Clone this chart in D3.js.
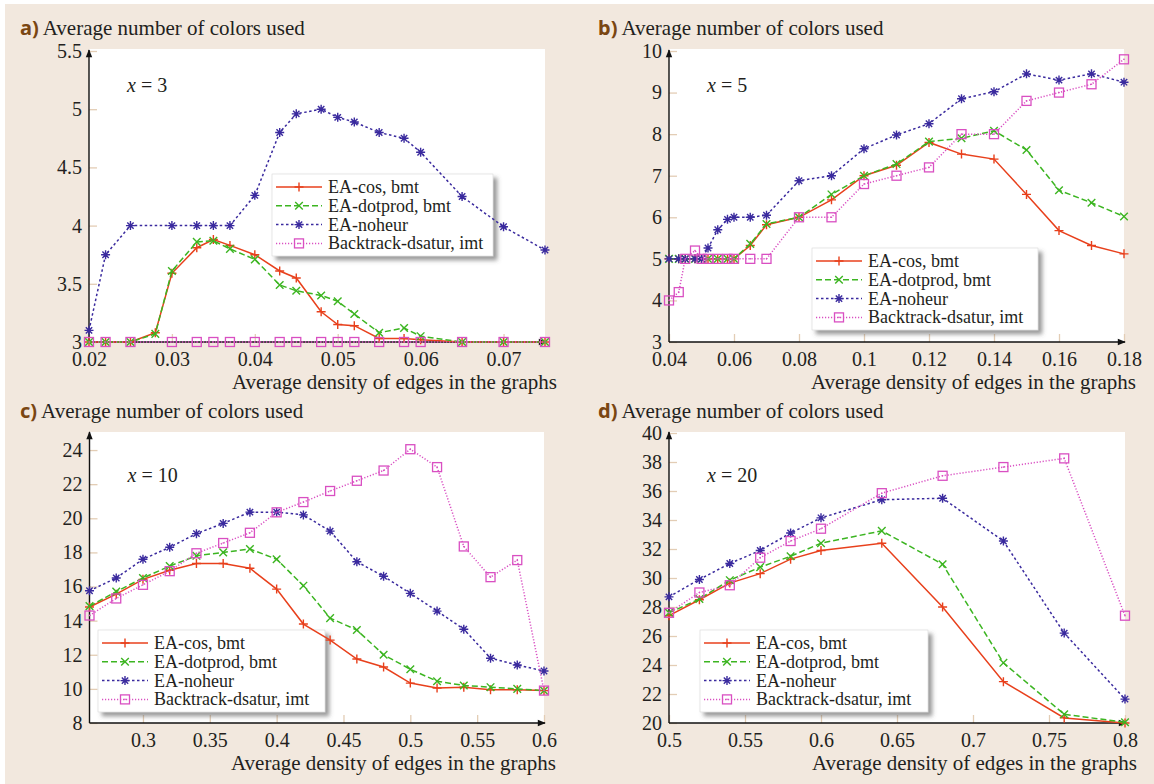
<!DOCTYPE html>
<html>
<head>
<meta charset="utf-8">
<script src="https://cdn.jsdelivr.net/npm/d3@7"></script>
<style>
  body { margin: 0; background: #fff; }
  svg text { font-family: "Liberation Serif", "Times New Roman", Tinos, "DejaVu Serif", "Noto Serif", serif; fill: #231f20; }
</style>
</head>
<body>
<div id="chart"></div>
<script>
// legend labels (same in every panel)
const seriesNames = ["EA-cos, bmt", "EA-dotprod, bmt", "EA-noheur", "Backtrack-dsatur, imt"];
const yTitle = "Average number of colors used";
const xTitle = "Average density of edges in the graphs";
const serif = '"Liberation Serif", "Times New Roman", Tinos, "DejaVu Serif", "Noto Serif", serif';

// a) x = 3
const aX = [0.02, 0.022, 0.025, 0.028, 0.03, 0.033, 0.035, 0.037, 0.04, 0.043, 0.045, 0.048, 0.05, 0.052, 0.055, 0.058, 0.06, 0.065, 0.07, 0.075];
const aXShort = [0.02, 0.022, 0.025, 0.03, 0.033, 0.035, 0.037, 0.04, 0.043, 0.045, 0.048, 0.05, 0.052, 0.055, 0.058, 0.06, 0.065, 0.07, 0.075];
const aCos = [3, 3, 3, 3.08, 3.59, 3.81, 3.88, 3.83, 3.75, 3.61, 3.55, 3.26, 3.15, 3.14, 3.03, 3.03, 3.02, 3, 3, 3];
const aDot = [3, 3, 3, 3.07, 3.61, 3.86, 3.87, 3.8, 3.71, 3.49, 3.44, 3.4, 3.35, 3.24, 3.08, 3.12, 3.05, 3, 3, 3];
const aNoheur = [3.1, 3.75, 4, 4, 4, 4, 4, 4.26, 4.8, 4.96, 5, 4.93, 4.89, 4.8, 4.75, 4.63, 4.25, 3.99, 3.79];
const aBack = [3, 3, 3, 3, 3, 3, 3, 3, 3, 3, 3, 3, 3, 3, 3, 3, 3, 3, 3];
const aXTicks = [0.02, 0.03, 0.04, 0.05, 0.06, 0.07];
const aYTicks = [3, 3.5, 4, 4.5, 5, 5.5];

// b) x = 5
const bX = [0.04, 0.043, 0.045, 0.048, 0.05, 0.052, 0.055, 0.058, 0.06, 0.065, 0.07, 0.08, 0.09, 0.1, 0.11, 0.12, 0.13, 0.14, 0.15, 0.16, 0.17, 0.18];
const bCos = [5, 5, 5, 5, 5, 5, 5, 5, 5, 5.32, 5.82, 6, 6.42, 7, 7.25, 7.8, 7.52, 7.4, 6.55, 5.68, 5.32, 5.12];
const bDot = [5, 5, 5, 5, 5, 5, 5, 5, 5, 5.36, 5.84, 6, 6.55, 7, 7.28, 7.82, 7.9, 8.08, 7.62, 6.65, 6.35, 6.02];
const bNoheur = [5, 5, 5, 5, 5, 5.26, 5.7, 5.95, 6, 6, 6.05, 6.88, 7, 7.65, 7.98, 8.25, 8.85, 9.02, 9.45, 9.3, 9.45, 9.25];
const bBack = [4, 4.2, 5, 5.2, 5, 5, 5, 5, 5, 5, 5, 6, 6, 6.8, 7, 7.2, 8, 8, 8.8, 9, 9.2, 9.8];
const bXTicks = [0.04, 0.06, 0.08, 0.1, 0.12, 0.14, 0.16, 0.18];
const bYTicks = [3, 4, 5, 6, 7, 8, 9, 10];

// c) x = 10
const cX = [0.26, 0.28, 0.3, 0.32, 0.34, 0.36, 0.38, 0.4, 0.42, 0.44, 0.46, 0.48, 0.5, 0.52, 0.54, 0.56, 0.58, 0.6];
const cCos = [14.8, 15.55, 16.42, 16.95, 17.35, 17.35, 17.07, 15.85, 13.8, 12.86, 11.75, 11.28, 10.34, 10.05, 10.1, 9.95, 9.95, 9.9];
const cDot = [14.85, 15.7, 16.5, 17.2, 17.8, 18, 18.2, 17.6, 16.05, 14.15, 13.45, 12, 11.15, 10.45, 10.2, 10.1, 10, 9.9];
const cNoheur = [15.75, 16.5, 17.6, 18.3, 19.1, 19.7, 20.36, 20.36, 20.2, 19.25, 17.45, 16.6, 15.6, 14.56, 13.5, 11.8, 11.4, 11.05];
const cBack = [14.3, 15.3, 16.1, 16.9, 17.95, 18.55, 19.15, 20.35, 20.95, 21.6, 22.2, 22.8, 24.05, 23, 18.35, 16.55, 17.55, 9.9];
const cXTicks = [0.3, 0.35, 0.4, 0.45, 0.5, 0.55, 0.6];
const cYTicks = [8, 10, 12, 14, 16, 18, 20, 22, 24];

// d) x = 20
const dX = [0.5, 0.52, 0.54, 0.56, 0.58, 0.6, 0.64, 0.68, 0.72, 0.76, 0.8];
const dCos = [27.4, 28.5, 29.65, 30.3, 31.3, 31.9, 32.4, 28, 22.85, 20.35, 20];
const dDot = [27.6, 28.55, 29.85, 30.75, 31.5, 32.4, 33.25, 30.95, 24.15, 20.6, 20.05];
const dNoheur = [28.7, 29.9, 31, 31.9, 33.1, 34.15, 35.4, 35.5, 32.55, 26.2, 21.65];
const dBack = [27.6, 29, 29.5, 31.4, 32.55, 33.4, 35.85, 37.05, 37.65, 38.25, 27.4];
const dXTicks = [0.5, 0.55, 0.6, 0.65, 0.7, 0.75, 0.8];
const dYTicks = [20, 22, 24, 26, 28, 30, 32, 34, 36, 38, 40];

// line styles for the 4 series
const seriesStyle = [
    {color: "#e8401c", dash: null, marker: "plus"},
    {color: "#3cb521", dash: "6,3", marker: "cross"},
    {color: "#3a2a9e", dash: "2.5,2.5", marker: "star"},
    {color: "#d94fc2", dash: "1.2,1.8", marker: "square"}
];

const svg = d3.select("#chart").append("svg")
    .attr("width", 1154)
    .attr("height", 784);

// beige page background
svg.append("rect")
    .attr("x", 5).attr("y", 4)
    .attr("width", 1149).attr("height", 780)
    .attr("fill", "#f2e8de");

let defs = svg.append("defs");
defs.append("marker")
    .attr("id", "arrow")
    .attr("viewBox", "0 0 10 10")
    .attr("refX", 9).attr("refY", 5)
    .attr("markerWidth", 10).attr("markerHeight", 8)
    .attr("markerUnits", "userSpaceOnUse")
    .attr("orient", "auto")
    .append("path")
    .attr("d", "M0,1 L10,5 L0,9 Z")
    .attr("fill", "#111");

let shadow = defs.append("filter")
    .attr("id", "shadow")
    .attr("x", "-10%").attr("y", "-10%")
    .attr("width", "130%").attr("height", "140%");
shadow.append("feDropShadow")
    .attr("dx", 4).attr("dy", 4)
    .attr("stdDeviation", 2.2)
    .attr("flood-color", "#555")
    .attr("flood-opacity", 0.6);

function markerPath(type) {
    if (type == "plus") return "M-4.5,0H4.5M0,-4.5V4.5";
    if (type == "cross") return "M-3.8,-3.8L3.8,3.8M-3.8,3.8L3.8,-3.8";
    if (type == "star") return "M-4.5,0H4.5M0,-4.5V4.5M-3.2,-3.2L3.2,3.2M-3.2,3.2L3.2,-3.2";
    return null;
}

function drawMarker(g, type, color, px, py) {
    if (type == "square") {
        g.append("rect")
            .attr("x", px - 4.5).attr("y", py - 4.5)
            .attr("width", 9).attr("height", 9)
            .attr("fill", "none")
            .attr("stroke", color)
            .attr("stroke-width", 1.3);
        g.append("circle")
            .attr("cx", px).attr("cy", py).attr("r", 0.8)
            .attr("fill", color);
    } else {
        g.append("path")
            .attr("d", markerPath(type))
            .attr("transform", `translate(${px},${py})`)
            .attr("stroke", color)
            .attr("stroke-width", 1.4)
            .attr("fill", "none");
    }
}

function drawPanel(p) {
    let g = svg.append("g");

    let x = d3.scaleLinear().domain(p.xDomain).range([p.left, p.right]);
    let y = d3.scaleLinear().domain(p.yDomain).range([p.bottom, p.top]);

    // white plot area
    g.append("rect")
        .attr("x", p.left).attr("y", p.plotTop)
        .attr("width", p.right - p.left)
        .attr("height", p.bottom - p.plotTop)
        .attr("fill", "#fff");

    // axes with tan inner ticks
    let xAxis = d3.axisBottom(x)
        .tickValues(p.xTicks)
        .tickFormat(d => String(d))
        .tickSize(-8)
        .tickPadding(11);
    let yAxis = d3.axisLeft(y)
        .tickValues(p.yTicks)
        .tickFormat(d => String(d))
        .tickSize(-8)
        .tickPadding(7);

    let gx = g.append("g")
        .attr("transform", `translate(0,${p.bottom})`)
        .call(xAxis);
    let gy = g.append("g")
        .attr("transform", `translate(${p.left},0)`)
        .call(yAxis);
    [gx, gy].forEach(ax => {
        ax.attr("font-family", null).attr("font-size", null);
        ax.select(".domain").remove();
        ax.selectAll(".tick line").attr("stroke", "#e3cdb5").attr("stroke-width", 1.3);
        ax.selectAll(".tick text")
            .attr("fill", "#231f20")
            .style("font-family", serif)
            .style("font-size", "20px");
    });
    gx.selectAll(".tick text").attr("dy", "0.66em");

    // legend box, drawn under the lines
    let lg = g.append("g").attr("transform", `translate(${p.legend[0]},${p.legend[1]})`);
    lg.append("rect")
        .attr("width", p.legend[2]).attr("height", 82)
        .attr("fill", "#fff")
        .attr("stroke", "#d8d8d8")
        .attr("stroke-width", 0.6)
        .attr("filter", "url(#shadow)");
    seriesNames.forEach((name, i) => {
        let st = seriesStyle[i];
        let ry = 13 + i * 18.8;
        lg.append("line")
            .attr("x1", 4).attr("x2", 50)
            .attr("y1", ry).attr("y2", ry)
            .attr("stroke", st.color)
            .attr("stroke-width", 1.5)
            .attr("stroke-dasharray", st.dash);
        drawMarker(lg, st.marker, st.color, 27, ry);
        lg.append("text")
            .attr("x", 56).attr("y", ry)
            .attr("dy", "0.33em")
            .style("font-size", "18px")
            .text(name);
    });

    // axis lines with arrows
    g.append("line")
        .attr("x1", p.left).attr("x2", p.right + 1)
        .attr("y1", p.bottom).attr("y2", p.bottom)
        .attr("stroke", "#111").attr("stroke-width", 1.4)
        .attr("marker-end", "url(#arrow)");
    g.append("line")
        .attr("x1", p.left).attr("x2", p.left)
        .attr("y1", p.bottom).attr("y2", p.top - 1)
        .attr("stroke", "#111").attr("stroke-width", 1.4)
        .attr("marker-end", "url(#arrow)");

    // series
    let line = d3.line().x(d => x(d[0])).y(d => y(d[1]));
    p.series.forEach((s, i) => {
        let st = seriesStyle[i];
        let pts = s.xs.map((v, j) => [v, s.ys[j]]);
        g.append("path")
            .attr("d", line(pts))
            .attr("fill", "none")
            .attr("stroke", st.color)
            .attr("stroke-width", 1.5)
            .attr("stroke-dasharray", st.dash);
        let mg = g.append("g");
        pts.forEach(d => drawMarker(mg, st.marker, st.color, x(d[0]), y(d[1])));
    });

    // panel heading
    let t = g.append("text")
        .attr("x", p.titleX).attr("y", p.titleY);
    t.append("tspan")
        .style("font-family", '"Noto Sans", "Open Sans", sans-serif')
        .style("font-weight", "bold")
        .style("font-size", "20px")
        .style("fill", "#7a4612")
        .text(p.letter);
    t.append("tspan")
        .attr("dx", 4)
        .style("font-size", "21px")
        .text(yTitle);

    // x-axis title
    g.append("text")
        .attr("x", p.right + 12).attr("y", p.bottom + 47)
        .attr("text-anchor", "end")
        .style("font-size", "21px")
        .text(xTitle);

    // parameter note
    let n = g.append("text")
        .attr("x", p.left + 38).attr("y", p.noteY)
        .style("font-size", "20px");
    n.append("tspan").style("font-style", "italic").text("x");
    n.append("tspan").text(" = " + p.note);
}

drawPanel({
    letter: "a)", note: "3", titleX: 20, titleY: 35, noteY: 92,
    left: 89, right: 545, top: 51, bottom: 342, plotTop: 49,
    xDomain: [0.02, 0.075], yDomain: [3, 5.5],
    xTicks: aXTicks, yTicks: aYTicks,
    legend: [272, 174, 221],
    series: [
        {xs: aX, ys: aCos},
        {xs: aX, ys: aDot},
        {xs: aXShort, ys: aNoheur},
        {xs: aXShort, ys: aBack}
    ]
});

drawPanel({
    letter: "b)", note: "5", titleX: 598, titleY: 35, noteY: 92,
    left: 669, right: 1124, top: 51, bottom: 342, plotTop: 49,
    xDomain: [0.04, 0.18], yDomain: [3, 10],
    xTicks: bXTicks, yTicks: bYTicks,
    legend: [812, 248, 226],
    series: [
        {xs: bX, ys: bCos},
        {xs: bX, ys: bDot},
        {xs: bX, ys: bNoheur},
        {xs: bX, ys: bBack}
    ]
});

drawPanel({
    letter: "c)", note: "10", titleX: 20, titleY: 418, noteY: 482,
    left: 89.5, right: 544, top: 433, bottom: 723, plotTop: 432,
    xDomain: [0.26, 0.6], yDomain: [8, 25],
    xTicks: cXTicks, yTicks: cYTicks,
    legend: [98, 630, 227],
    series: [
        {xs: cX, ys: cCos},
        {xs: cX, ys: cDot},
        {xs: cX, ys: cNoheur},
        {xs: cX, ys: cBack}
    ]
});

drawPanel({
    letter: "d)", note: "20", titleX: 598, titleY: 418, noteY: 482,
    left: 669, right: 1125, top: 433, bottom: 723, plotTop: 432,
    xDomain: [0.5, 0.8], yDomain: [20, 40],
    xTicks: dXTicks, yTicks: dYTicks,
    legend: [700, 630, 228],
    series: [
        {xs: dX, ys: dCos},
        {xs: dX, ys: dDot},
        {xs: dX, ys: dNoheur},
        {xs: dX, ys: dBack}
    ]
});
</script>
</body>
</html>
